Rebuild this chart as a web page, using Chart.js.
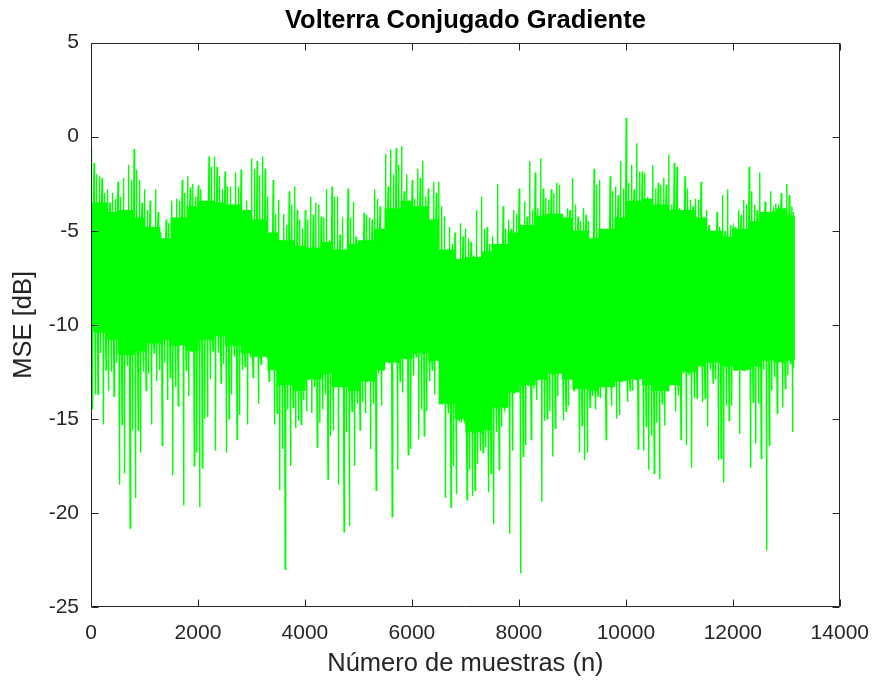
<!DOCTYPE html>
<html>
<head>
<meta charset="utf-8">
<script src="https://cdn.jsdelivr.net/npm/chart.js@4.4.1/dist/chart.umd.min.js"></script>
<style>
  html, body { margin: 0; padding: 0; background: #fff; }
  #wrap { width: 875px; height: 681px; }
</style>
</head>
<body>
<div id="wrap"><canvas id="mseChart" width="875" height="681"></canvas></div>
<script>
// Señal MSE, en bloques de 100 muestras
const MUESTRAS_BLOQUE = 100;
const MUESTRAS_FRANJA = 250;
const N_TOTAL = 13150;

// pico superior mas alto y segundo pico superior de cada bloque [dB]
const picoSup1 = [
  -0.55, -2.0, -2.2, -2.8, -3.0, -2.4, -2.2, -1.5, -0.65, -2.3,
  -2.8, -3.4, -2.8, -5.1, -4.4, -3.4, -3.3, -2.3, -2.1, -2.5,
  -2.6, -3.4, -1.05, -1.05, -2.1, -1.85, -2.65, -1.9, -1.75, -3.4,
  -1.15, -1.3, -1.05, -3.2, -2.3, -3.35, -4.1, -2.9, -2.65, -4.4,
  -3.9, -3.2, -3.5, -4.25, -2.8, -2.65, -3.2, -4.3, -2.75, -3.45,
  -5.5, -4.05, -4.3, -2.8, -3.7, -0.9, -0.7, -0.6, -0.5, -2.0,
  -2.3, -1.7, -1.3, -2.75, -2.4, -2.4, -4.25, -4.8, -5.1, -4.6,
  -4.9, -5.6, -3.9, -3.2, -4.8, -5.3, -2.5, -3.7, -4.4, -3.9,
  -2.75, -3.45, -1.3, -1.9, -1.15, -3.25, -2.8, -2.45, -4.1, -3.8,
  -2.2, -4.25, -3.8, -4.5, -1.7, -2.3, -4.9, -2.1, -2.65, -1.3,
  1.0, -1.5, -0.35, -1.85, -3.2, -1.5, -2.45, -2.2, -0.95, -1.4,
  -3.8, -2.1, -3.35, -3.3, -2.4, -3.9, -5.0, -4.0, -3.1, -2.8,
  -4.8, -3.9, -3.35, -1.6, -3.6, -1.9, -3.45, -2.9, -3.55, -3.0,
  -2.5, -3.7
];
const picoSup2 = [
  -1.4, -2.1, -3.0, -3.5, -3.3, -3.2, -4.25, -2.3, -1.75, -3.5,
  -3.9, -5.1, -4.0, -5.4, -4.6, -4.6, -3.4, -3.0, -2.7, -3.2,
  -2.8, -3.6, -1.6, -1.6, -2.8, -2.65, -3.8, -2.65, -4.25, -4.2,
  -1.7, -2.05, -1.7, -6.1, -4.1, -6.0, -4.7, -3.6, -3.9, -4.9,
  -4.4, -4.15, -3.6, -4.3, -5.5, -3.2, -5.2, -6.7, -4.3, -5.3,
  -6.0, -4.15, -4.4, -3.3, -5.85, -2.65, -2.0, -1.5, -2.9, -3.8,
  -3.3, -2.2, -3.2, -4.7, -3.0, -3.7, -6.3, -5.7, -6.9, -5.3,
  -5.4, -6.3, -7.35, -4.9, -5.7, -6.6, -6.4, -4.9, -4.9, -4.1,
  -4.7, -4.25, -3.9, -3.8, -2.75, -3.35, -3.0, -2.55, -4.35, -3.9,
  -3.6, -4.5, -4.15, -5.7, -2.55, -5.1, -5.3, -2.9, -3.1, -2.75,
  -2.45, -2.8, -1.85, -1.95, -4.0, -2.75, -2.55, -2.55, -3.6, -1.6,
  -3.9, -2.75, -3.7, -3.35, -4.35, -4.7, -5.0, -4.8, -5.0, -4.7,
  -4.8, -4.15, -3.6, -2.9, -3.9, -4.1, -4.1, -3.9, -3.6, -4.25,
  -3.1, -4.0
];

// pico inferior mas bajo y segundo pico inferior de cada bloque [dB]
const picoInf1 = [
  -14.5, -13.7, -15.3, -13.5, -13.8, -18.5, -17.9, -20.8, -19.2, -16.8,
  -13.5, -15.3, -13.0, -16.4, -14.0, -18.0, -14.3, -19.6, -13.8, -17.5,
  -19.7, -15.0, -12.9, -16.7, -13.1, -16.8, -13.7, -16.1, -12.4, -15.3,
  -12.8, -14.2, -11.6, -13.0, -15.3, -18.8, -23.0, -17.5, -15.5, -15.3,
  -14.6, -14.7, -16.5, -14.5, -18.2, -15.6, -18.5, -21.0, -20.7, -17.5,
  -15.6, -14.7, -16.6, -18.8, -14.3, -11.0, -20.2, -17.7, -13.6, -16.9,
  -12.7, -16.1, -15.9, -13.0, -13.7, -11.5, -19.2, -19.7, -19.0, -15.2,
  -19.3, -19.1, -17.4, -16.8, -18.9, -20.6, -17.7, -14.5, -21.1, -13.3,
  -23.2, -16.4, -16.1, -14.0, -19.4, -15.0, -17.0, -13.8, -15.1, -14.3,
  -13.5, -16.8, -17.2, -14.4, -14.5, -13.9, -16.1, -14.3, -15.0, -12.8,
  -14.1, -13.5, -16.6, -16.7, -17.7, -17.9, -18.2, -15.35, -12.95, -14.6,
  -16.1, -16.4, -17.6, -13.9, -14.1, -15.4, -13.1, -17.2, -18.4, -15.1,
  -11.8, -15.8, -12.4, -17.6, -16.3, -17.1, -22.0, -13.5, -14.7, -14.4,
  -12.7, -15.7
];
const picoInf2 = [
  -13.7, -11.5, -12.4, -12.5, -12.0, -15.3, -12.2, -15.6, -15.6, -12.5,
  -12.6, -11.5, -12.4, -12.0, -12.8, -13.3, -11.0, -12.4, -11.1, -16.8,
  -17.6, -14.9, -11.4, -11.5, -12.1, -15.0, -11.7, -14.8, -12.2, -11.6,
  -11.6, -12.1, -10.8, -11.6, -14.7, -16.6, -14.5, -14.4, -15.1, -14.0,
  -12.6, -13.3, -15.2, -13.7, -15.9, -13.0, -11.0, -15.7, -14.6, -14.2,
  -14.1, -12.1, -14.2, -12.6, -11.35, -10.5, -11.8, -13.0, -11.0, -16.6,
  -11.7, -14.5, -14.6, -12.4, -11.35, -11.0, -14.7, -17.5, -15.1, -15.1,
  -17.7, -18.8, -16.7, -16.5, -17.9, -15.7, -15.4, -13.9, -16.7, -13.0,
  -17.0, -12.2, -13.4, -12.9, -15.1, -14.6, -15.5, -11.0, -14.6, -12.6,
  -12.7, -15.35, -16.8, -13.8, -13.8, -13.1, -12.8, -12.4, -14.8, -11.1,
  -13.5, -12.9, -11.8, -15.4, -15.9, -15.2, -14.2, -11.25, -12.05, -13.75,
  -12.6, -12.4, -13.9, -11.5, -13.9, -12.4, -12.9, -17.1, -14.3, -14.3,
  -11.5, -12.1, -11.35, -14.1, -14.2, -12.4, -16.4, -12.8, -11.0, -13.4,
  -12.1, -12.3
];

// borde de la franja densa, cada 250 muestras [dB]
const bandaSup = [
  -3.5, -4.0, -3.9, -4.3, -4.8, -5.4, -4.3, -3.7, -3.4, -3.5,
  -3.6, -3.9, -4.4, -5.1, -5.5, -5.8, -5.9, -5.6, -6.0, -5.7,
  -5.5, -4.9, -3.8, -3.4, -3.7, -4.4, -6.0, -6.5, -6.4, -6.1,
  -5.7, -5.1, -4.7, -4.2, -4.1, -4.3, -5.0, -5.4, -4.9, -4.3,
  -3.4, -3.3, -3.6, -3.9, -3.9, -4.3, -5.0, -5.3, -4.9, -4.5,
  -4.0, -3.8, -4.2
];
const bandaInf = [
  -10.4, -10.8, -11.6, -11.4, -11.0, -10.8, -11.1, -11.4, -10.8, -10.6,
  -11.1, -11.5, -11.7, -12.4, -13.2, -13.5, -12.9, -12.6, -13.3, -13.5,
  -13.0, -12.4, -12.0, -11.8, -11.5, -11.9, -14.2, -15.0, -15.7, -15.6,
  -14.4, -13.6, -13.2, -12.9, -12.6, -12.9, -13.4, -13.5, -13.3, -13.0,
  -12.9, -13.2, -13.5, -13.2, -12.5, -12.2, -12.0, -12.2, -12.4, -12.2,
  -11.9, -12.0, -11.9
];

const ticksX = [0, 2000, 4000, 6000, 8000, 10000, 12000, 14000];
const ticksY = [-25, -20, -15, -10, -5, 0, 5];

// armar la serie: en cada bloque la franja va y viene varias veces y salen los picos
const puntos = [];
for (let k = 0; k < picoSup1.length; k++) {
  const b = Math.floor(k * MUESTRAS_BLOQUE / MUESTRAS_FRANJA);
  const ar = bandaSup[b], ab = bandaInf[b];
  const vals = [
    ar, picoSup1[k], ab, ar, ab, picoInf1[k], ar, ab,
    ar, picoSup2[k], ab, ar, ab, picoInf2[k], ar, ab
  ];
  const ini = k * MUESTRAS_BLOQUE;
  const fin = Math.min(ini + MUESTRAS_BLOQUE, N_TOTAL);
  const paso = (fin - ini) / vals.length;
  vals.forEach((v, i) => puntos.push({ x: ini + paso * i, y: v }));
}

const FUENTE = '"Liberation Sans", Arial, Helvetica, sans-serif';
const GRIS = '#262626';

// caja de ejes con marcas hacia adentro (estilo MATLAB)
const marcoEjes = {
  id: 'marcoEjes',
  afterDatasetsDraw(chart) {
    const { ctx, chartArea: a, scales: { x, y } } = chart;
    const L = Math.round(a.left) + 0.5, R = Math.round(a.right) - 0.5;
    const T = Math.round(a.top) + 0.5, B = Math.round(a.bottom) - 0.5;
    ctx.save();
    ctx.strokeStyle = GRIS;
    ctx.lineWidth = 1;
    ctx.beginPath();
    ctx.rect(L, T, R - L, B - T);
    ticksX.forEach(v => {
      const px = Math.round(x.getPixelForValue(v)) + 0.5;
      ctx.moveTo(px, B); ctx.lineTo(px, B - 7);
      ctx.moveTo(px, T); ctx.lineTo(px, T + 7);
    });
    ticksY.forEach(v => {
      const py = Math.round(y.getPixelForValue(v)) + 0.5;
      ctx.moveTo(L, py); ctx.lineTo(L + 7, py);
      ctx.moveTo(R, py); ctx.lineTo(R - 7, py);
    });
    ctx.stroke();
    ctx.restore();
  }
};

const ctx = document.getElementById('mseChart').getContext('2d');
const mseChart = new Chart(ctx, {
  type: 'line',
  data: {
    datasets: [{
      data: puntos,
      borderColor: '#00ff00',
      borderWidth: 1.4,
      pointRadius: 0,
      tension: 0,
      fill: false
    }]
  },
  options: {
    responsive: false,
    animation: false,
    events: [],
    layout: { padding: { left: 0, right: 27, top: 0, bottom: 0 } },
    plugins: {
      legend: { display: false },
      tooltip: { enabled: false },
      title: {
        display: true,
        text: 'Volterra Conjugado Gradiente',
        fullSize: false,
        color: '#000',
        font: { family: FUENTE, size: 25.5, weight: 'bold' },
        padding: { top: 6, bottom: 6 }
      }
    },
    scales: {
      x: {
        type: 'linear',
        min: 0,
        max: 14000,
        afterBuildTicks: s => { s.ticks = ticksX.map(v => ({ value: v })); },
        afterFit: s => { s.height = 74; },
        grid: { display: false },
        border: { display: false },
        ticks: {
          color: GRIS, padding: 6, maxRotation: 0, autoSkip: false,
          font: { family: FUENTE, size: 21 },
          callback: v => String(v)
        },
        title: {
          display: true, text: 'Número de muestras (n)', color: GRIS,
          font: { family: FUENTE, size: 25.5 }, padding: { top: 0, bottom: 2 }
        }
      },
      y: {
        min: -25,
        max: 5,
        afterBuildTicks: s => { s.ticks = ticksY.map(v => ({ value: v })); },
        afterFit: s => { s.width = 91; },
        grid: { display: false },
        border: { display: false },
        ticks: {
          color: GRIS, padding: 4,
          font: { family: FUENTE, size: 21 }
        },
        title: {
          display: true, text: 'MSE [dB]', color: GRIS,
          font: { family: FUENTE, size: 25.5 }, padding: { top: 9, bottom: 0 }
        }
      }
    }
  },
  plugins: [marcoEjes]
});
</script>
</body>
</html>
